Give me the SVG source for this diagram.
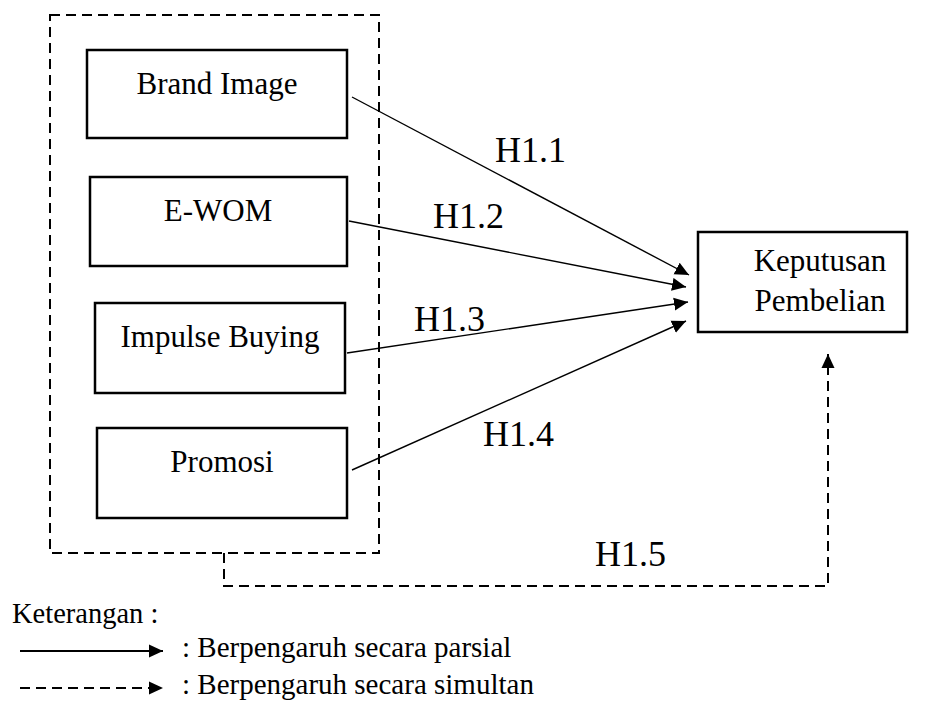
<svg xmlns="http://www.w3.org/2000/svg" width="935" height="708" viewBox="0 0 935 708">
<defs>
<style>
.box{fill:#fff;stroke:#000;stroke-width:2.5}
.dash{fill:none;stroke:#000;stroke-width:2;stroke-dasharray:10 6}
.arr{fill:none;stroke:#000;stroke-width:1.4}
.t{font-family:"Liberation Serif","Times New Roman",serif;font-size:31px;fill:#000;text-anchor:middle}
.h{font-family:"Liberation Serif","Times New Roman",serif;font-size:36px;fill:#000}
.lg{font-family:"Liberation Serif","Times New Roman",serif;font-size:29px;fill:#000}
</style>
<marker id="ah" markerUnits="userSpaceOnUse" markerWidth="15" markerHeight="14" refX="14" refY="7" orient="auto">
<path d="M0,0.5 L14,7 L0,13.5 z" fill="#000"/>
</marker>
<marker id="ahs" markerUnits="userSpaceOnUse" markerWidth="15" markerHeight="14" refX="14" refY="7" orient="auto">
<path d="M0,0.5 L14,7 L0,13.5 z" fill="#000"/>
</marker>
</defs>
<rect width="935" height="708" fill="#fff"/>
<g id="group-box">
<rect class="dash" x="50" y="15" width="329" height="538"/>
</g>
<g id="brand-image">
<rect class="box" x="87" y="50" width="260" height="88"/>
<text class="t" x="217" y="94">Brand Image</text>
</g>
<g id="e-wom">
<rect class="box" x="90" y="177" width="257" height="89"/>
<text class="t" x="218" y="221">E-WOM</text>
</g>
<g id="impulse-buying">
<rect class="box" x="95" y="303" width="250" height="90"/>
<text class="t" x="220" y="347">Impulse Buying</text>
</g>
<g id="promosi">
<rect class="box" x="97" y="428" width="250" height="90"/>
<text class="t" x="222" y="472">Promosi</text>
</g>
<g id="keputusan-pembelian">
<rect class="box" x="698" y="232" width="209" height="100"/>
<text class="t" x="820" y="271">Keputusan</text>
<text class="t" x="820" y="311">Pembelian</text>
</g>
<g id="connectors">
<line class="arr" x1="352" y1="97" x2="689" y2="275" marker-end="url(#ah)"/>
<line class="arr" x1="349" y1="221" x2="686" y2="287" marker-end="url(#ah)"/>
<line class="arr" x1="347" y1="353" x2="688" y2="302" marker-end="url(#ah)"/>
<line class="arr" x1="352" y1="470" x2="686" y2="321" marker-end="url(#ah)"/>
<path class="dash" d="M224,553 V586 H828 V354" marker-end="url(#ah)"/>
<text class="h" x="495" y="162">H1.1</text>
<text class="h" x="433" y="228">H1.2</text>
<text class="h" x="414" y="331">H1.3</text>
<text class="h" x="483" y="446">H1.4</text>
<text class="h" x="595" y="566">H1.5</text>
</g>
<g id="legend">
<text class="lg" x="12" y="623" style="font-size:28.5px">Keterangan :</text>
<line x1="20" y1="651" x2="163" y2="651" stroke="#000" stroke-width="2" marker-end="url(#ahs)"/>
<text class="lg" x="182" y="657">: Berpengaruh secara parsial</text>
<line x1="20" y1="688" x2="163" y2="688" stroke="#000" stroke-width="2" stroke-dasharray="10 6" marker-end="url(#ahs)"/>
<text class="lg" x="182" y="694">: Berpengaruh secara simultan</text>
</g>
</svg>
